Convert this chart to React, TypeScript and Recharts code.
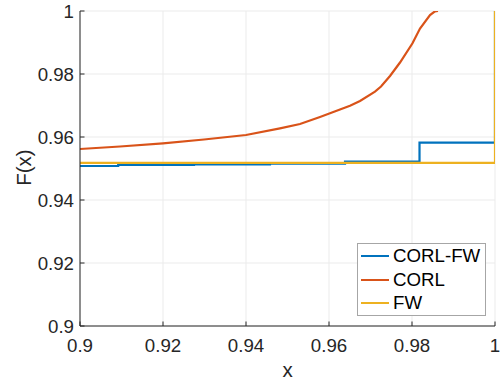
import React from 'react';
import { LineChart, Line, XAxis, YAxis, CartesianGrid, Legend } from 'recharts';

// ---- data ----
const xTicks = [0.9, 0.92, 0.94, 0.96, 0.98, 1];
const xTickLabels = ['0.9', '0.92', '0.94', '0.96', '0.98', '1'];
const yTicks = [0.9, 0.92, 0.94, 0.96, 0.98, 1];
const yTickLabels = ['0.9', '0.92', '0.94', '0.96', '0.98', '1'];

const seriesNames = ['CORL-FW', 'CORL', 'FW'];

const corlFwX = [0.9, 0.9092, 0.92747, 0.94578, 0.96386, 0.98181, 1.0];
const corlFwY = [0.95079, 0.95111, 0.95133, 0.95156, 0.95222, 0.95819, 1.0];

const corlX = [0.9, 0.90964, 0.92, 0.92988, 0.94, 0.94819, 0.95301, 0.95783, 0.96024, 0.96265, 0.96506, 0.96747, 0.97108, 0.97253, 0.9747, 0.97711, 0.98012, 0.98193, 0.98434, 0.98554, 0.98627];
const corlY = [0.95619, 0.95698, 0.958, 0.95921, 0.96063, 0.96276, 0.96413, 0.96635, 0.96752, 0.96873, 0.96994, 0.97143, 0.97438, 0.97603, 0.97937, 0.98365, 0.98975, 0.99444, 0.99873, 0.9999, 1.0];

const fwX = [0.9, 1.0];
const fwY = [0.95181, 1.0];

const toRows = (xs: number[], ys: number[]) => xs.map((x, i) => ({ x, y: ys[i] }));
const corlFwData = toRows(corlFwX, corlFwY);
const corlData = toRows(corlX, corlY);
const fwData = toRows(fwX, fwY);

// ---- styles ----
const AX = '#262626';
const FONT = '"Liberation Sans", Arial, Helvetica, sans-serif';
const TICK_FS = 18.7;
const LABEL_FS = 20.5;
const TL = 4.5;
const COLORS = ['#0072BD', '#D95319', '#EDB120'];
const LW = 2.2;

const BottomTick = (p: any) => {
  const { x, y, index } = p;
  return (
    <g>
      <line x1={x} y1={y} x2={x} y2={y - TL} stroke={AX} strokeWidth={1} />
      <text x={x} y={y + 26} textAnchor="middle" fill={AX} fontSize={TICK_FS} fontFamily={FONT}>
        {xTickLabels[index]}
      </text>
    </g>
  );
};

const LeftTick = (p: any) => {
  const { x, y, index } = p;
  return (
    <g>
      <line x1={x} y1={y} x2={x + TL} y2={y} stroke={AX} strokeWidth={1} />
      <text x={x - 6} y={y + 7.3} textAnchor="end" fill={AX} fontSize={TICK_FS} fontFamily={FONT}>
        {yTickLabels[index]}
      </text>
    </g>
  );
};

const TopTick = (p: any) => {
  const { x, y } = p;
  return <line x1={x} y1={y} x2={x} y2={y + TL} stroke={AX} strokeWidth={1} />;
};

const RightTick = (p: any) => {
  const { x, y } = p;
  return <line x1={x} y1={y} x2={x - TL} y2={y} stroke={AX} strokeWidth={1} />;
};

const XLabel = (p: any) => {
  const vb = p.viewBox || { x: 80, y: 326, width: 415, height: 54 };
  return (
    <text x={vb.x + vb.width / 2} y={vb.y + 51} textAnchor="middle" fill={AX} fontSize={LABEL_FS} fontFamily={FONT}>
      x
    </text>
  );
};

const YLabel = (p: any) => {
  const vb = p.viewBox || { x: 0, y: 11, width: 80, height: 315 };
  const cx = vb.x + 30.7;
  const cy = vb.y + vb.height / 2 - 1;
  return (
    <text x={cx} y={cy} transform={`rotate(-90, ${cx}, ${cy})`} textAnchor="middle" fill={AX} fontSize={LABEL_FS} fontFamily={FONT}>
      F(x)
    </text>
  );
};

const LegendBox = () => {
  return (
    <div
      style={{
        position: 'relative',
        width: 129,
        height: 73,
        border: '1px solid #a6a6a6',
        background: '#fff',
        boxSizing: 'border-box',
        fontFamily: FONT,
        fontSize: TICK_FS,
        color: '#000',
      }}
    >
      {seriesNames.map((name, i) => (
        <div key={name} style={{ position: 'absolute', left: 0, top: 12.4 + i * 23.3, height: 0 }}>
          <div style={{ position: 'absolute', left: 3, top: -1, width: 28, height: 2, background: COLORS[i] }} />
          <div style={{ position: 'absolute', left: 35, top: -11, lineHeight: '22px', whiteSpace: 'nowrap' }}>{name}</div>
        </div>
      ))}
    </div>
  );
};

export default function App() {
  return (
    <div style={{ position: 'absolute', left: 0, top: 0, width: 500, height: 380, background: '#fff' }}>
      <LineChart width={500} height={380} margin={{ top: 11, right: 5, left: 0, bottom: 0 }}>
        <CartesianGrid stroke="#ebebeb" strokeWidth={1} horizontalValues={yTicks} verticalValues={xTicks} />
        <XAxis
          dataKey="x"
          type="number"
          domain={[0.9, 1]}
          ticks={xTicks}
          interval={0}
          allowDataOverflow
          height={54}
          tickSize={0}
          tickMargin={0}
          tick={<BottomTick />}
          axisLine={{ stroke: AX, strokeWidth: 1 }}
          tickLine={false}
          label={XLabel}
        />
        <XAxis
          xAxisId="top"
          orientation="top"
          dataKey="x"
          type="number"
          domain={[0.9, 1]}
          ticks={xTicks}
          interval={0}
          allowDataOverflow
          height={0}
          tickSize={0}
          tickMargin={0}
          tick={<TopTick />}
          axisLine={{ stroke: AX, strokeWidth: 1 }}
          tickLine={false}
        />
        <YAxis
          type="number"
          domain={[0.9, 1]}
          ticks={yTicks}
          interval={0}
          allowDataOverflow
          width={80}
          tickSize={0}
          tickMargin={0}
          tick={<LeftTick />}
          axisLine={{ stroke: AX, strokeWidth: 1 }}
          tickLine={false}
          label={YLabel}
        />
        <YAxis
          yAxisId="right"
          orientation="right"
          type="number"
          domain={[0.9, 1]}
          ticks={yTicks}
          interval={0}
          allowDataOverflow
          width={0}
          tickSize={0}
          tickMargin={0}
          tick={<RightTick />}
          axisLine={{ stroke: AX, strokeWidth: 1 }}
          tickLine={false}
        />
        <Line data={corlFwData} dataKey="y" name={seriesNames[0]} type="stepAfter" stroke={COLORS[0]} strokeWidth={LW} dot={false} isAnimationActive={false} />
        <Line data={corlData} dataKey="y" name={seriesNames[1]} type="linear" stroke={COLORS[1]} strokeWidth={LW} dot={false} isAnimationActive={false} />
        <Line data={fwData} dataKey="y" name={seriesNames[2]} type="stepAfter" stroke={COLORS[2]} strokeWidth={LW} dot={false} isAnimationActive={false} />
        <Legend
          layout="vertical"
          align="center"
          verticalAlign="middle"
          content={<LegendBox />}
          wrapperStyle={{ left: 357, top: 243, width: 129, height: 73 }}
        />
      </LineChart>
    </div>
  );
}
